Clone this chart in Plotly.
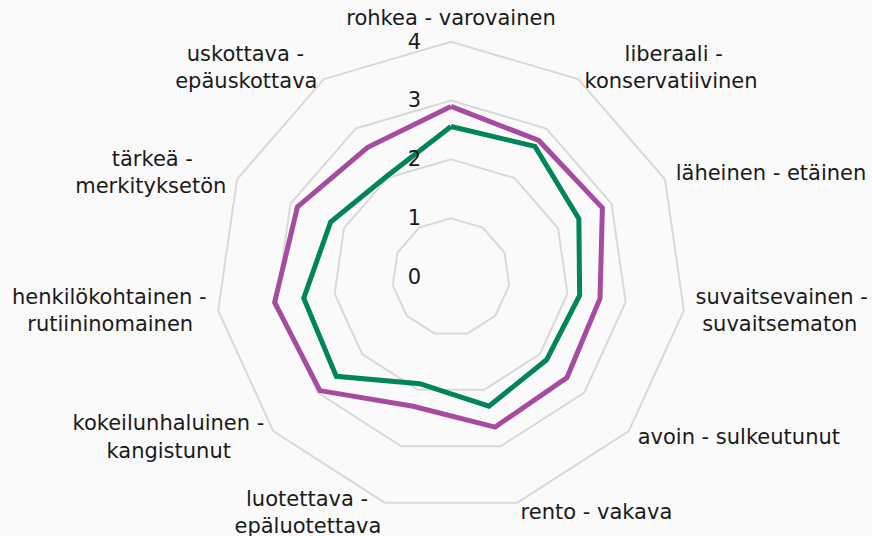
import math
import plotly.graph_objects as go

categories = [
    "rohkea - varovainen",
    "liberaali - konservatiivinen",
    "läheinen - etäinen",
    "suvaitsevainen - suvaitsematon",
    "avoin - sulkeutunut",
    "rento - vakava",
    "luotettava - epäluotettava",
    "kokeilunhaluinen - kangistunut",
    "henkilökohtainen - rutiininomainen",
    "tärkeä - merkityksetön",
    "uskottava - epäuskottava",
]
category_lines = [
    ["rohkea - varovainen"],
    ["liberaali -", "konservatiivinen"],
    ["läheinen - etäinen"],
    ["suvaitsevainen -", "suvaitsematon"],
    ["avoin - sulkeutunut"],
    ["rento - vakava"],
    ["luotettava -", "epäluotettava"],
    ["kokeilunhaluinen -", "kangistunut"],
    ["henkilökohtainen -", "rutiininomainen"],
    ["tärkeä -", "merkityksetön"],
    ["uskottava -", "epäuskottava"],
]
purple_values = [2.90, 2.76, 2.83, 2.56, 2.61, 2.66, 2.29, 2.95, 3.03, 2.87, 2.62]
green_values = [2.56, 2.64, 2.39, 2.21, 2.15, 2.29, 1.89, 2.58, 2.53, 2.25, 2.03]
radial_ticks = [0, 1, 2, 3, 4]

PURPLE = "#a64ca0"
GREEN = "#00845a"
GRID = "#d9d9d9"
BG = "#fafafa"
TEXT = "#1a1a1a"
FONT = "DejaVu Sans, Verdana, sans-serif"
FONT_SIZE = 21
R_AXIS_MAX = 4.2   # a little room outside the outer grid ring for the labels
LABEL_R = 4.2

# approximate DejaVu Sans advance widths (em), used to centre lines within a label
ADV = {"a": .613, "b": .635, "c": .550, "d": .635, "e": .615, "f": .352, "g": .635,
       "h": .634, "i": .278, "j": .278, "k": .579, "l": .278, "m": .974, "n": .634,
       "o": .612, "p": .635, "r": .411, "s": .521, "t": .392, "u": .634, "v": .592,
       "y": .592, "ä": .613, "ö": .612, " ": .318, "-": .361}


def text_width(s):
    return sum(ADV.get(ch, 0.6) for ch in s)


def centred_label(lines, anchor):
    if len(lines) == 1:
        return lines[0]
    widest = max(text_width(l) for l in lines)
    out = []
    for l in lines:
        pad = int(round((widest - text_width(l)) / 2 / ADV[" "]))
        if anchor == "start":
            out.append("\u00a0" * pad + l)
        elif anchor == "end":
            out.append(l + "\u00a0" * pad)
        else:
            out.append(l)
    return "<br>".join(out)


fig = go.Figure()
for vals, col in [(purple_values, PURPLE), (green_values, GREEN)]:
    fig.add_trace(go.Scatterpolar(
        r=vals + vals[:1],
        theta=categories + categories[:1],
        mode="lines",
        line=dict(color=col, width=5),
        showlegend=False,
        hoverinfo="skip",
    ))

# category labels placed through the polar axes
n = len(categories)
positions, labels = [], []
for i in range(n):
    ang = math.radians(90 - i * 360 / n)
    c = math.cos(ang)
    if c > 0.1:
        positions.append("middle right")
        labels.append(centred_label(category_lines[i], "start"))
    elif c < -0.1:
        positions.append("middle left")
        labels.append(centred_label(category_lines[i], "end"))
    else:
        positions.append("top center" if math.sin(ang) > 0 else "bottom center")
        labels.append(centred_label(category_lines[i], "middle"))

fig.add_trace(go.Scatterpolar(
    r=[LABEL_R] * n,
    theta=categories,
    mode="text",
    text=labels,
    textposition=positions,
    textfont=dict(family=FONT, size=FONT_SIZE, color=TEXT),
    cliponaxis=False,
    showlegend=False,
    hoverinfo="skip",
))

fig.update_layout(
    width=872, height=536,
    margin=dict(l=60, r=30, t=30, b=12),
    paper_bgcolor=BG,
    plot_bgcolor=BG,
    font=dict(family=FONT, size=FONT_SIZE, color=TEXT),
    polar=dict(
        bgcolor=BG,
        gridshape="linear",
        radialaxis=dict(
            range=[0, R_AXIS_MAX],
            tickvals=radial_ticks,
            angle=90,
            side="counterclockwise",
            tickangle=90,
            showline=False,
            gridcolor=GRID,
            gridwidth=1.5,
            ticks="outside",
            ticklen=22,
            tickcolor="rgba(0,0,0,0)",
            tickfont=dict(size=FONT_SIZE),
        ),
        angularaxis=dict(
            rotation=90,
            direction="clockwise",
            showgrid=False,
            showticklabels=False,
            showline=False,
            ticks="",
        ),
    ),
)

fig.write_html(
    "out.html",
    config={"displayModeBar": False},
    post_script="document.body.style.margin='0';document.body.style.background='#fafafa';",
)
